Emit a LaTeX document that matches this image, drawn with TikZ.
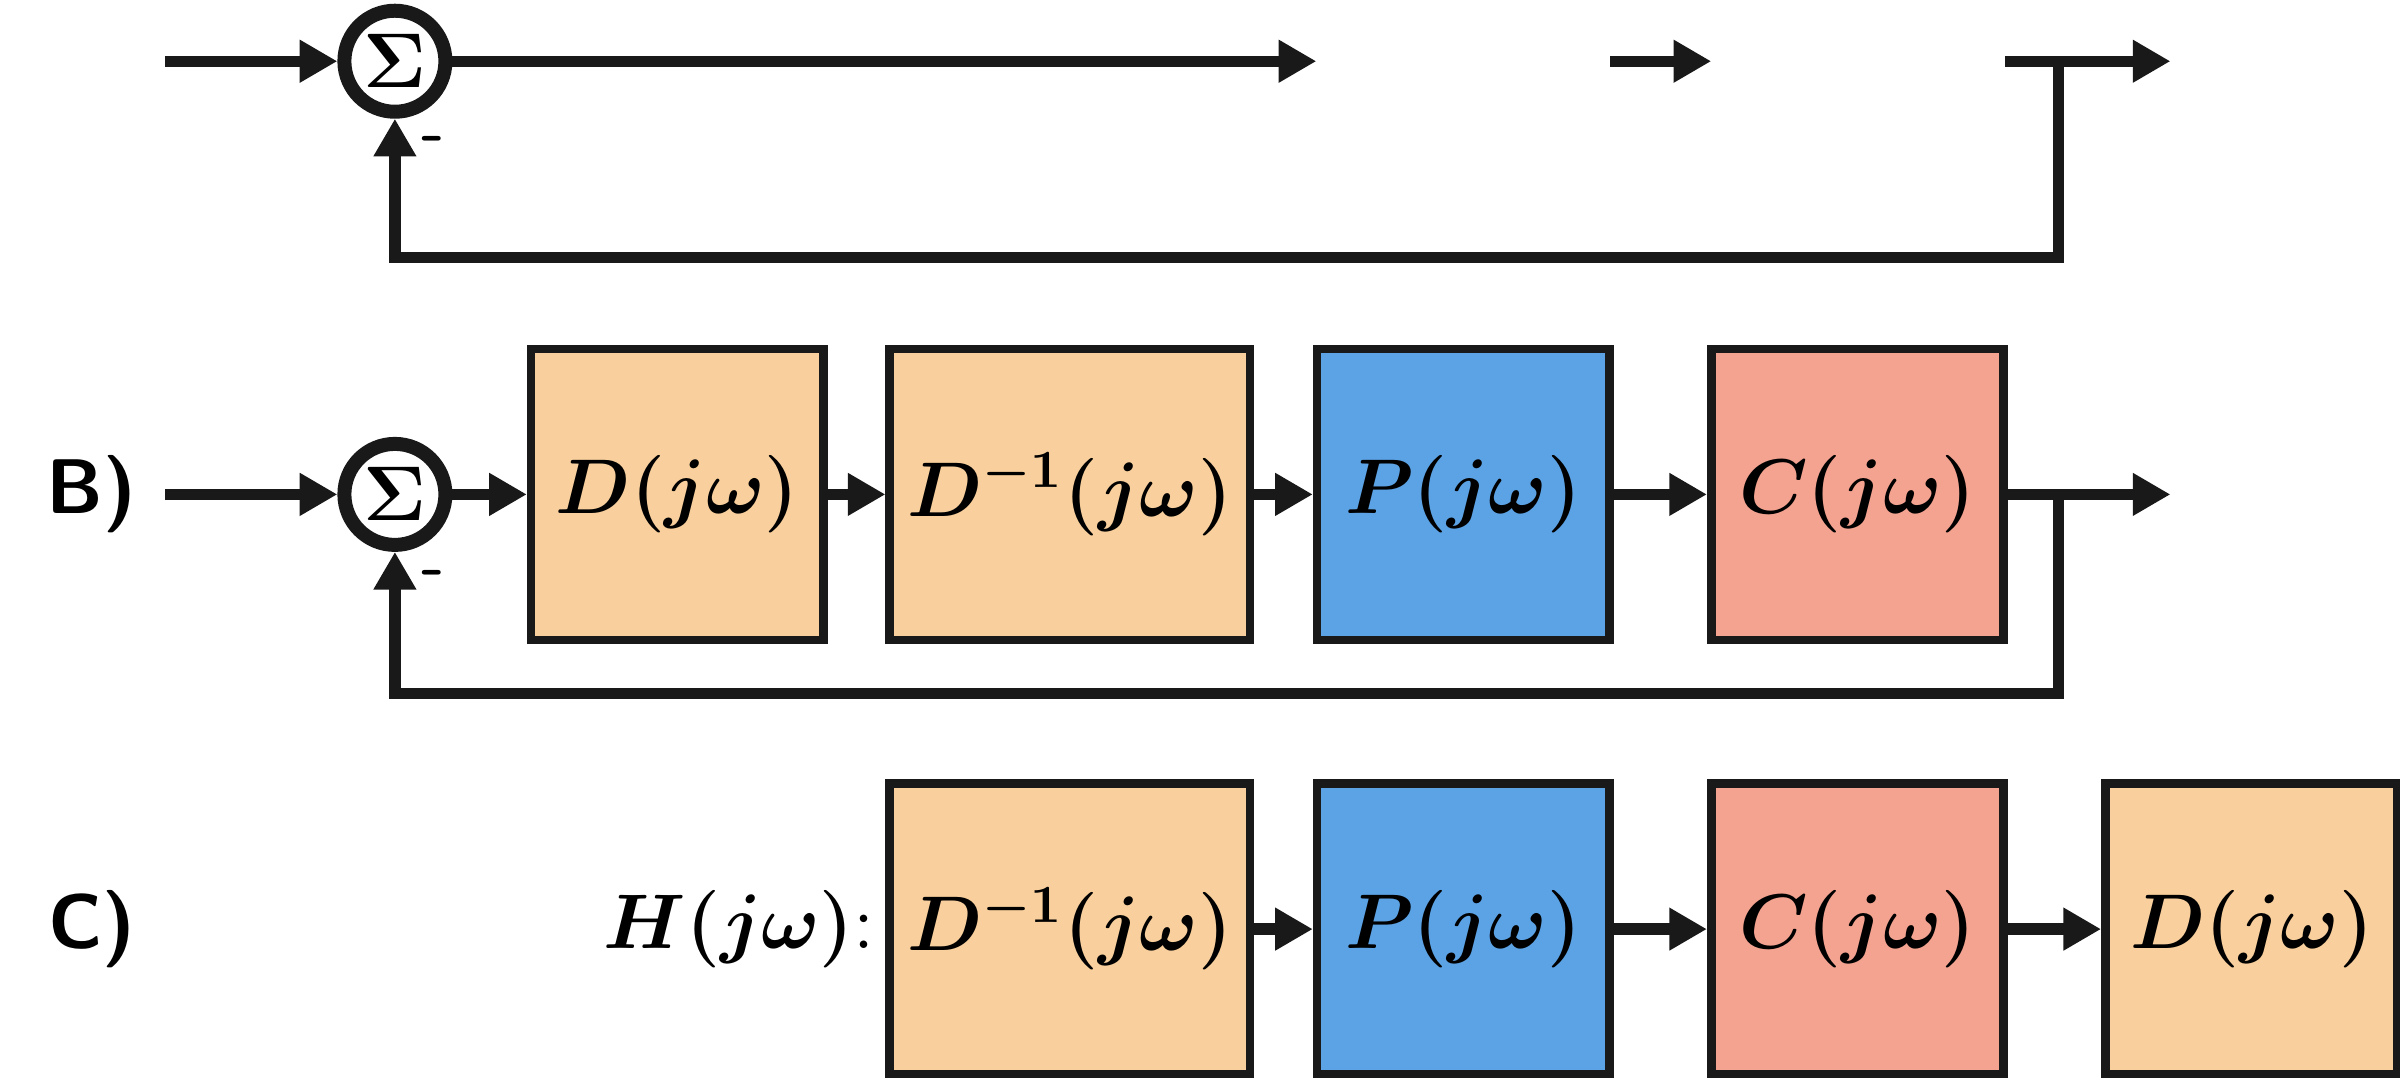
\documentclass[tikz,border=0pt]{standalone}
\usepackage{tikz}
\usetikzlibrary{arrows.meta,positioning}
\definecolor{dcol}{HTML}{F9D09D}
\definecolor{pcol}{HTML}{5CA3E6}
\definecolor{ccol}{HTML}{F4A391}
\newcommand{\blk}{0.12}
\tikzset{
  wire/.style={line width=2.1pt, draw=black!90},
  arr/.style={wire, -{Triangle[length=7pt,width=7.5pt]}},
  sumnode/.style={circle, draw=black!90, line width=2.6pt, fill=white, minimum size=0.66cm, inner sep=0pt, font=\Large\boldmath},
  box/.style={draw=black!90, line width=1.6pt, minimum width=1.91cm, minimum height=1.9cm, font=\Large\boldmath},
  lbl/.style={font=\Large\sffamily\bfseries}
}
\begin{document}
\begin{tikzpicture}
\useasboundingbox (0,0) rectangle (15.68,-7.04);
%row A
\coordinate (inA) at (1.08,-0.40);
\node[sumnode] (sA) at (2.58,-0.40) {$\Sigma$};
\coordinate (oA) at (8.60,-0.40);
\coordinate (m1) at (10.52,-0.40);
\coordinate (m2) at (11.18,-0.40);
\coordinate (tA) at (13.10,-0.40);
\coordinate (kA) at (13.45,-0.40);
\coordinate (eA) at (14.18,-0.40);
\coordinate (bA) at (13.45,-1.68);
\draw[arr] (inA) -- (sA.west);
\draw[arr] (sA.east) -- (oA);
\draw[arr] (m1) -- (m2);
\draw[arr] (tA) -- (eA);
\draw[arr] (kA) -- (bA) -| (sA.south);
\node[font=\large\bfseries\sffamily] at (2.83,-0.95) {-};
%row B
\node[lbl] (labB) at (0.60,-3.23) {B)};
\coordinate (inB) at (1.08,-3.23);
\node[sumnode] (sB) at (2.58,-3.23) {$\Sigma$};
\node[box, fill=dcol] (dB) at (4.425,-3.23) {$D(j\omega)$};
\node[box, fill=dcol] (diB) at (6.99,-3.23) {$D^{-1}(j\omega)$};
\node[box, fill=pcol] (pB) at (9.56,-3.23) {$P(j\omega)$};
\node[box, fill=ccol] (cB) at (12.135,-3.23) {$C(j\omega)$};
\coordinate (kB) at (13.45,-3.23);
\coordinate (eB) at (14.18,-3.23);
\coordinate (bB) at (13.45,-4.53);
\draw[arr] (inB) -- (sB.west);
\draw[arr] (sB.east) -- (dB.west);
\draw[arr] (dB.east) -- (diB.west);
\draw[arr] (diB.east) -- (pB.west);
\draw[arr] (pB.east) -- (cB.west);
\draw[arr] (cB.east) -- (eB);
\draw[arr] (kB) -- (bB) -| (sB.south);
\node[font=\large\bfseries\sffamily] at (2.83,-3.78) {-};
%row C
\node[lbl] (labC) at (0.60,-6.07) {C)};
\node[font=\Large\boldmath] (hC) at (4.83,-6.07) {$H(j\omega)$:};
\node[box, fill=dcol] (diC) at (6.99,-6.07) {$D^{-1}(j\omega)$};
\node[box, fill=pcol] (pC) at (9.56,-6.07) {$P(j\omega)$};
\node[box, fill=ccol] (cC) at (12.135,-6.07) {$C(j\omega)$};
\node[box, fill=dcol] (dC) at (14.71,-6.07) {$D(j\omega)$};
\draw[arr] (diC.east) -- (pC.west);
\draw[arr] (pC.east) -- (cC.west);
\draw[arr] (cC.east) -- (dC.west);
\end{tikzpicture}
\end{document}
